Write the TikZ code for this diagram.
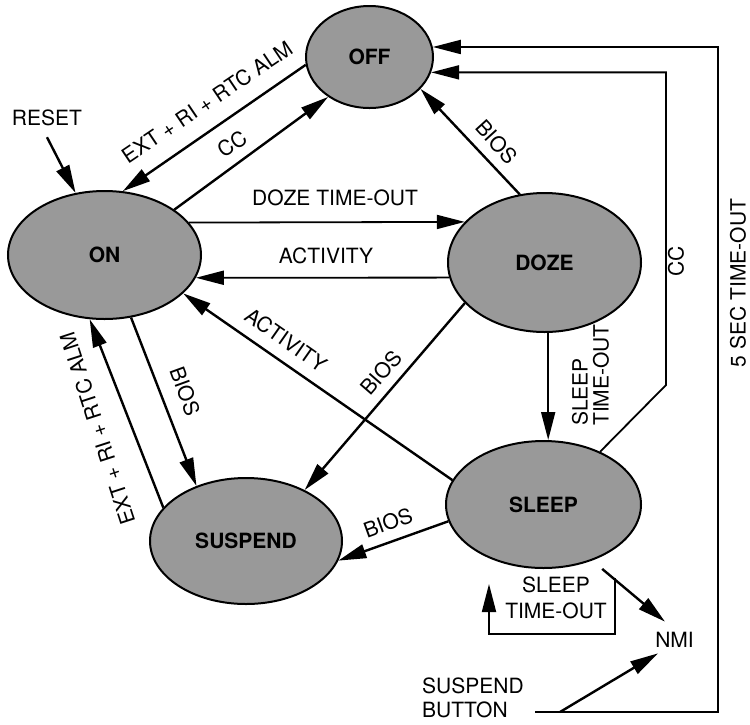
\documentclass[tikz,border=0pt]{standalone}
\usepackage{fontspec}
\setmainfont{TeX Gyre Heros}
\usetikzlibrary{arrows.meta,shapes.geometric}
\begin{document}
\begin{tikzpicture}[x=1pt,y=-1pt,
  state/.style={ellipse,draw=black,line width=2pt,fill=black!40,inner sep=0pt,
    font=\fontsize{21}{25}\selectfont\bfseries},
  lbl/.style={inner sep=0pt,font=\fontsize{21}{25}\selectfont},
  conn/.style={line width=2.4pt,-{Triangle[length=28pt,width=14pt]}},
  oconn/.style={line width=1.8pt,-{Triangle[length=28pt,width=14pt]}}]
\useasboundingbox (0,0) rectangle (750,724);
% states
\node[state,minimum width=193pt,minimum height=128pt] (on) at (104.5,255) {ON};
\node[state,minimum width=127pt,minimum height=102pt] (off) at (369.5,57) {OFF};
\node[state,minimum width=193pt,minimum height=139pt] (doze) at (544.5,262.5) {DOZE};
\node[state,minimum width=192pt,minimum height=126pt] (suspend) at (246,541) {SUSPEND};
\node[state,minimum width=195pt,minimum height=127pt] (sleep) at (543.5,504.5) {SLEEP};
% labels
\node[lbl] (reset) at (47,118) {RESET};
\node[lbl,rotate=34] (lext1) at (207,102) {EXT + RI + RTC ALM};
\node[lbl,rotate=34] (lcc1) at (232,144) {CC};
\node[lbl] (ldoze) at (335,198) {DOZE TIME-OUT};
\node[lbl] (lact1) at (326,256) {ACTIVITY};
\node[lbl,rotate=-35] (lact2) at (286,340) {ACTIVITY};
\node[lbl,rotate=-47.7] (lbios1) at (497,142) {BIOS};
\node[lbl,rotate=-70] (lbios2) at (185,391) {BIOS};
\node[lbl,rotate=108] (lext2) at (97.5,428.5) {EXT + RI + RTC ALM};
\node[lbl,rotate=49] (lbios3) at (381,373) {BIOS};
\node[lbl,rotate=20] (lbios4) at (388,523) {BIOS};
\node[lbl,rotate=90,align=left,font=\fontsize{21}{21}\selectfont] (lsto1) at (590.5,375) {SLEEP\\TIME-OUT};
\node[lbl,rotate=90] (lcc2) at (676,261) {CC};
\node[lbl,rotate=90] (l5sec) at (738,283) {5 SEC TIME-OUT};
\node[lbl,align=center,font=\fontsize{21}{26}\selectfont] (lsto2) at (556,597.5) {SLEEP\\TIME-OUT};
\node[lbl] (nmi) at (674.5,640) {NMI};
\node[lbl,align=left,anchor=west,font=\fontsize{21}{24}\selectfont] (sbtn) at (422,698) {SUSPEND\\BUTTON};
% coordinates
\coordinate (ccb) at (666,385);
\coordinate (sbs) at (535,712);
\coordinate (sbc) at (718,712);
\coordinate (sbj) at (560,712);
\coordinate (lp1) at (615,578);
\coordinate (lp2) at (489,584);
% connectors
\draw[conn] ([shift={(0,11)}]reset.south) -- (on.115.1);
\draw[conn] (off.187.3) -- (on.74.1);
\draw[conn] (on.33.7) -- (off.224);
\draw[oconn] (on.21.45) -- (doze.153.1);
\draw[oconn] (doze.189.87) -- (on.-14.84);
\draw[conn] (sleep.165.3) -- (on.-26.4);
\draw[conn] (doze.110.9) -- (off.-32);
\draw[conn] (on.-67) -- (suspend.132.9);
\draw[conn] (suspend.158) -- (on.257.4);
\draw[conn] (doze.207.5) -- (suspend.41.9);
\draw[conn] (sleep.190.3) -- (suspend.-12.9);
\draw[oconn] (doze.-87.2) -- (doze.-87.2 |- sleep.north);
\draw[oconn] (sleep.43) -- (ccb) |- (off.-14.6);
\draw[oconn] (sbs) -- (sbc) |- (off.9);
\draw[conn] (sbj) -- ([shift={(-16.5,5.5)}]nmi.south);
\draw[conn,shorten <=13pt] (sleep.-49.1) -- ([shift={(-9.5,-10.5)}]nmi.north);
\draw[oconn] (lp1) -- ++(0,56) -| (lp2);
\end{tikzpicture}
\end{document}
